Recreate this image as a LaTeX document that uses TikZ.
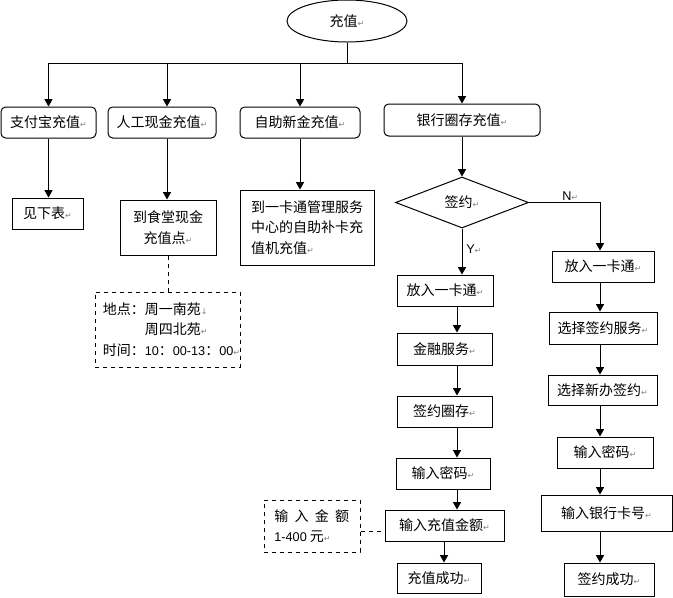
\documentclass[tikz,border=0pt]{standalone}
\usepackage{fontspec}
\setmainfont{Noto Sans CJK SC}
\newfontfamily\dvfont{DejaVu Sans}
\newfontfamily\lat{Liberation Sans}
\usetikzlibrary{shapes.geometric,arrows.meta}
\newcommand\parmk{{\dvfont\fontsize{6}{6}\selectfont\textcolor{gray}{↵}}}
\newcommand\brmk{{\dvfont\fontsize{6}{6}\selectfont\textcolor{gray}{↓}}}
\newcommand\num[1]{{\lat\fontsize{9.5}{9.5}\selectfont #1}}
\begin{document}
\begin{tikzpicture}[x=0.75pt,y=-0.75pt,
 every node/.style={font=\fontsize{10.5}{15.4}\selectfont, inner sep=0pt},
 line/.style={draw=black,line width=0.75pt},
 arr/.style={line,-{Triangle[length=5.5pt,width=6pt]}},
 rbox/.style={line,rounded corners=3.5pt,rectangle},
 sbox/.style={line,rectangle},
 dbox/.style={line,dashed,rectangle},
 sz/.style 2 args={minimum width=#1*0.75pt, minimum height=#2*0.75pt},
]
\useasboundingbox (0,0) rectangle (673,597);

\node[ellipse,line,sz={120}{42}] (top) at (347,21) {充值\parmk};

\node[rbox,sz={95}{31}] (b1) at (48.5,122.5) {支付宝充值\parmk};
\node[rbox,sz={108}{31}] (b2) at (162,122.5) {人工现金充值\parmk};
\node[rbox,sz={120}{31}] (b3) at (300,122.5) {自助新金充值\parmk};
\node[rbox,sz={156}{32}] (b4) at (462,120) {银行圈存充值\parmk};

\coordinate (j) at (347,63);
\draw[line] (top.south) -- (j);
\draw[arr] (j) -| (b1.north);
\draw[arr] (j) -| ([xshift=3.75pt]b2.north);
\draw[arr] (j) -| (b3.north);
\draw[arr] (j) -| (b4.north);

\node[sbox,sz={71}{31}] (c1) at (47.5,213.5) {见下表\parmk};
\node[sbox,sz={96}{55},align=center] (c2) at (168,227.5) {到食堂现金\\充值点\parmk};
\node[sbox,sz={134}{75},align=left] (c3) at (307,227.5) {到一卡通管理服务\\中心的自助补卡充\\值机充值\parmk};

\draw[arr] (b1.south) -- (b1.south |- c1.north);
\draw[arr] ([xshift=3.75pt]b2.south) -- ([xshift=3.75pt]b2.south |- c2.north);
\draw[arr] (b3.south) -- (b3.south |- c3.north);

\node[dbox,sz={145}{75}] (n1) at (167.5,329.5) {};
\node[anchor=west,align=left] (n1t) at ([xshift=6pt]n1.west) {地点：周一南苑\brmk\\\phantom{地点：}周四北苑\parmk\\时间：\num{10}：\num{00-13}：\num{00}\parmk};
\draw[line,dashed] (c2.south) -- (c2.south |- n1.north);

\node[diamond,line,sz={133}{51}] (d) at (462,202.5) {签约\parmk};
\draw[arr] (b4.south) -- (d.north);

% left column
\node[sbox,sz={96}{31}] (L1) at (445,290.5) {放入一卡通\parmk};
\node[sbox,sz={95}{32}] (L2) at (444.5,349) {金融服务\parmk};
\node[sbox,sz={95}{31}] (L3) at (444.5,411.5) {签约圈存\parmk};
\node[sbox,sz={94}{31}] (L4) at (443,473.5) {输入密码\parmk};
\node[sbox,sz={119}{31}] (L5) at (444.5,525.5) {输入充值金额\parmk};
\node[sbox,sz={84}{30}] (L6) at (439,578) {充值成功\parmk};

\draw[arr] (d.south) -- (d.south |- L1.north);
\node[anchor=west] (ylab) at (466,249) {\num{Y}\parmk};
\coordinate (ax) at (457,0);
\draw[arr] (L1.south -| ax) -- (L2.north -| ax);
\draw[arr] (L2.south -| ax) -- (L3.north -| ax);
\draw[arr] (L3.south -| ax) -- (L4.north -| ax);
\draw[arr] (L4.south -| ax) -- (L5.north -| ax);
\coordinate (ax2) at (444,0);
\draw[arr] (L5.south -| ax2) -- (L6.north -| ax2);

% right column
\coordinate (rx) at (600,0);
\node[sbox,sz={102}{31}] (R1) at (603,266.5) {放入一卡通\parmk};
\node[sbox,sz={108}{32}] (R2) at (603,328) {选择签约服务\parmk};
\node[sbox,sz={109}{30}] (R3) at (602.5,390) {选择新办签约\parmk};
\node[sbox,sz={96}{31}] (R4) at (605,452.5) {输入密码\parmk};
\node[sbox,sz={131}{36}] (R5) at (606.5,513) {输入银行卡号\parmk};
\node[sbox,sz={90}{33}] (R6) at (609,579.5) {签约成功\parmk};

\draw[arr] (d.east) -| (R1.north -| rx);
\node[anchor=south west] (nlab) at (562,201) {\num{N}\parmk};
\draw[arr] (R1.south -| rx) -- (R2.north -| rx);
\draw[arr] (R2.south -| rx) -- (R3.north -| rx);
\draw[arr] (R3.south -| rx) -- (R4.north -| rx);
\draw[arr] (R4.south -| rx) -- (R5.north -| rx);
\draw[arr] (R5.south -| rx) -- (R6.north -| rx);

% amount note
\node[dbox,sz={96}{52}] (n2) at (312,526) {};
\node[anchor=west,align=left] (n2t) at ([xshift=8pt]n2.west) {输\hspace{4.7pt}入\hspace{4.7pt}金\hspace{4.7pt}额\\\num{1-400} 元\parmk};
\draw[line,dashed] ([yshift=-3.75pt]n2.east) -- ([yshift=-3.75pt]n2.east -| L5.west);
\end{tikzpicture}
\end{document}
